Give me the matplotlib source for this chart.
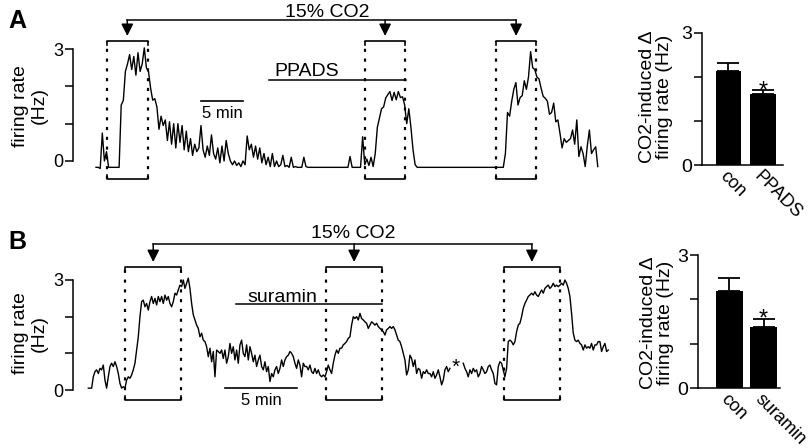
import numpy as np
import matplotlib
matplotlib.use('Agg')
import matplotlib.pyplot as plt

plt.rcParams['font.family'] = ['Liberation Sans', 'DejaVu Sans']

W, H = 810, 448

# ---------------- data ----------------
# firing rate traces (Hz), sampled at a fixed interval (min)
dt_a = 0.25
rate_a = [
    -0.17, -0.17, -0.2, 0.75, 0.0, 0.25, -0.17, -0.17, -0.17, -0.17, -0.17, -0.17,
    1.5, 1.62, 2.4, 2.6, 2.85, 2.45, 2.8, 2.3, 2.9, 2.4, 2.6, 3.03, 2.5, 2.4,
    1.95, 1.63, 1.67, 1.45, 0.85, 1.2, 0.95, 1.1, 0.55, 1.05, 0.45, 1.0, 0.35, 1.0,
    0.5, 0.95, 0.3, 0.8, 0.25, 0.6, 0.15, 0.45, 0.25, 0.35,
    0.95, 0.3, 0.1, 0.4, 0.15, 0.7, 0.2, 0.05, 0.35, -0.05, 0.4, 0.0, 0.55, 0.2,
    0.0, -0.1, 0.0, -0.12, -0.05, -0.15, 0.0, -0.1,
    0.67, 0.3, 0.45, 0.1, 0.4, 0.05, 0.35, -0.05, 0.2, -0.1, 0.1, -0.15, 0.2, -0.15,
    0.0, -0.15, -0.1, 0.15, -0.15, -0.12, -0.17, 0.1, -0.17, -0.15, -0.17, -0.17,
    -0.17, 0.1, -0.15,
    -0.17, -0.17, -0.17, -0.17, -0.17, -0.17, -0.17, -0.17, -0.17, -0.17,
    -0.17, -0.17, -0.17, -0.17, -0.17, -0.17, -0.17, -0.17, -0.17, -0.17,
    0.12, -0.17, -0.17, -0.17, -0.17, -0.17,
    0.65, -0.1, 0.05, -0.12, 0.1, -0.15, 0.2, 0.9, 1.15, 1.4, 1.45, 1.69, 1.78,
    1.86, 1.62, 1.84, 1.64, 1.86, 1.7, 1.72, 1.5, 1.0, 1.4, 0.9, 0.3, -0.1, -0.17,
    -0.17, -0.17, -0.17, -0.17, -0.17, -0.17, -0.17, -0.17, -0.17, -0.17,
    -0.17, -0.17, -0.17, -0.17, -0.17, -0.17, -0.17, -0.17, -0.17, -0.17,
    -0.17, -0.17, -0.17, -0.17, -0.17, -0.17, -0.17, -0.17, -0.17, -0.17,
    -0.17, -0.17, -0.17, -0.17, -0.17, -0.17, -0.17, -0.17, -0.17, -0.17, -0.17,
    0.2, 1.3, 1.2, 1.6, 1.92, 2.1, 1.5, 1.7, 1.75, 2.15, 1.92, 2.25, 2.93, 2.5,
    2.45, 2.25, 2.2, 1.95, 1.73, 1.68, 1.6, 1.25, 1.3, 1.55, 1.05, 1.1, 0.74, 0.35,
    0.6, 0.5, 0.55, 0.6, 0.83, 0.45, 1.1, 0.12, 0.38, 0.2, -0.15, 0.4, 0.83, 0.2,
    0.3, 0.38, -0.15,
]

dt_b = 5 / 43.2
nan = float('nan')
rate_b = [
    0.05, 0.05, 0.05, 0.36, 0.5, 0.55, 0.45, 0.59, 0.55, 0.68, 0.27, 0.05, 0.36,
    0.64, 0.73, 0.64, 0.77, 0.64, 0.45, 0.18, 0.05, 0.09, 0.05, 0.27, 0.36, 0.32,
    0.41, 0.55, 0.73, 1.09, 1.45, 2.0, 2.41, 2.45, 2.27, 2.36, 2.18, 2.41, 2.55,
    2.36, 2.5, 2.32, 2.55, 2.41, 2.55, 2.36, 2.59, 2.45, 2.55, 2.36, 2.27, 2.41,
    2.64, 2.59, 2.73, 2.86, 2.82, 3.0, 2.77, 2.91, 3.05, 2.77, 2.36, 2.05, 1.91,
    1.77, 1.68, 1.45, 1.55, 1.36, 1.32, 1.18, 0.91, 1.14, 0.77, 1.05, 0.36, 1.09,
    1.05, 1.0, 1.09, 0.86, 1.09, 0.73, 0.91, 1.27, 1.0, 1.18, 0.82, 1.09, 0.73,
    1.23, 1.36, 1.0, 0.91, 1.23, 0.82, 1.18, 1.0, 0.77, 0.95, 0.64, 0.82,
    0.95, 0.64, 0.55, 0.77, 0.5, 0.64, 0.23, 0.45, 0.36, 0.55, 0.64, 0.45, 0.59,
    0.82, 0.64, 0.82, 0.91, 0.95, 1.05, 1.0, 0.91, 0.73, 0.59, 0.82, 0.68, 0.36,
    0.73, 0.64, 0.64, 0.55, 0.68, 0.5, 0.45, 0.59, 0.45, 0.55, 0.41, 0.36, 0.41,
    0.36, 0.5, 0.68, 0.55, 0.45, 0.73, 0.95, 1.09, 1.0, 1.14, 1.14, 1.23, 1.27,
    1.32, 1.41, 1.45, 1.77, 2.0, 1.95, 2.0, 1.91, 2.09, 1.95, 1.91, 1.86, 1.82,
    1.68, 1.77, 1.86, 1.82, 1.77, 1.82, 1.73, 1.68, 1.64, 1.59, 1.5, 1.64, 1.68,
    1.73, 1.68, 1.73, 1.64, 1.5, 1.36, 1.32, 1.18, 1.0, 0.82, 0.41, 0.55, 0.95,
    0.86, 0.64, 0.82, 0.45, 0.59, 0.55, 0.32, 0.5, 0.45, 0.55, 0.45,
    0.45, 0.36, 0.5, 0.32, 0.41, 0.55, 0.36, 0.14, 0.27, 0.55, 0.64, 0.5, 0.59,
    nan, nan, nan, nan, nan, nan, nan,
    0.73, 0.59, 0.5, 0.36, 0.55, 0.45, 0.59, 0.5, 0.55, 0.36, 0.45, 0.64, 0.55,
    0.45, 0.5, 0.64, 0.68, 0.55, 0.45, 0.18, 0.14, 0.64, 0.77, 0.73, 0.55, 0.36,
    0.59, 1.32, 1.36, 1.32, 1.23, 1.32, 1.59, 1.77, 1.82, 2.0, 2.23, 2.36, 2.45,
    2.55, 2.59, 2.64, 2.59, 2.68, 2.59, 2.55, 2.64, 2.73, 2.64, 2.77, 2.82, 2.86,
    2.77, 2.82, 2.91, 2.82, 2.86, 2.82, 2.86, 2.91, 2.86, 3.0, 2.91, 2.77, 2.55,
    2.09, 1.55, 1.36, 1.32, 1.36, 1.27, 1.23, 1.09, 1.23, 1.14, 1.18, 1.14, 1.27,
    1.09, 1.23, 1.23, 1.32, 1.32, 1.05, 1.18, 1.27, 1.05, 1.09,
]

# CO2 applications and drug periods (min)
co2_on_a = [1.3, 32.0, 47.6]
co2_dur_a = 4.85
ppads_period = [20.6, 36.9]
co2_on_b = [2.55, 16.5, 28.85]
co2_dur_b = 3.92
suramin_period = [10.26, 20.4]

# summary bars (Hz)
bar_labels_a = ['con', 'PPADS']
bar_mean_a = [2.14, 1.61]
bar_sem_a = [0.17, 0.09]
bar_labels_b = ['con', 'suramin']
bar_mean_b = [2.19, 1.38]
bar_sem_b = [0.30, 0.18]


def px_axes(fig, left, top, right, bottom):
    return fig.add_axes([left / W, 1 - bottom / H, (right - left) / W, (bottom - top) / H])


def style_yaxis(ax, size):
    for s in ['top', 'right', 'bottom']:
        ax.spines[s].set_visible(False)
    ax.spines['left'].set_bounds(0, 3)
    ax.spines['left'].set_linewidth(1.1)
    ax.set_yticks([0, 1, 2, 3])
    ax.set_yticklabels(['0', '', '', '3'])
    ax.tick_params(axis='y', direction='out', length=6, width=1.1, labelsize=size, pad=1)


def trace_panel(ax, t, rate, co2_on, dur, drug, drug_name, lay):
    style_yaxis(ax, 13)
    ax.set_xticks([])
    ax.plot(t, rate, color='black', lw=1.0)

    top, bot, d = lay['box_top'], lay['box_bot'], 0.1
    centers = []
    for on in co2_on:
        off = on + dur
        centers.append(on + dur / 2)
        ax.plot([on, on, off, off], [top - d, top, top, top - d], color='black', lw=1.2, clip_on=False)
        ax.plot([on, on, off, off], [bot + d, bot, bot, bot + d], color='black', lw=1.2, clip_on=False)
        for x in (on, off):
            ax.plot([x, x], [bot, top], color='black', lw=1.6, ls=(0, (1.4, 3.0)), clip_on=False)

    ay = lay['arrow_y']
    ax.plot([centers[0], centers[-1]], [ay, ay], color='black', lw=1.1, clip_on=False)
    for c in centers:
        ax.annotate('', xy=(c, lay['tip_y']), xytext=(c, ay), annotation_clip=False,
                    arrowprops=dict(arrowstyle='-|>,head_length=0.6,head_width=0.3',
                                    mutation_scale=12, color='black', lw=1.1,
                                    shrinkA=0, shrinkB=0))
    ax.text(lay['co2_x'], lay['co2_y'], '15% CO2', ha='center', va='baseline', fontsize=14)

    ax.plot(drug, [lay['drug_y'], lay['drug_y']], color='black', lw=1.1, clip_on=False)
    ax.text(lay['drug_tx'], lay['drug_ty'], drug_name, ha='center', va='baseline', fontsize=14)

    sx, sy = lay['scale_x'], lay['scale_y']
    ax.plot([sx, sx + 5], [sy, sy], color='black', lw=1.2, clip_on=False)
    ax.text(sx + 2.5, lay['scale_ty'], '5 min', ha='center', va='baseline', fontsize=12)


def bar_panel(ax, labels, means, sems, width):
    style_yaxis(ax, 14)
    ax.spines['bottom'].set_visible(True)
    ax.spines['bottom'].set_linewidth(1.1)
    x = np.arange(len(means))
    ax.bar(x, means, width=width, color='black', zorder=2)
    ax.errorbar(x, means, yerr=[np.zeros(len(sems)), sems], fmt='none', ecolor='black',
                elinewidth=1.3, capsize=8, capthick=1.3, zorder=1)
    ax.annotate('*', (x[1], means[1] + sems[1]), xytext=(0, -5), textcoords='offset points',
                ha='center', va='baseline', fontsize=17)
    ax.set_xticks(x)
    ax.set_xticklabels(labels, rotation=-45, ha='left', va='top', rotation_mode='anchor', fontsize=13)
    ax.tick_params(axis='x', length=0, pad=2)


fig = plt.figure(figsize=(W / 100, H / 100), dpi=100)

# ---- A trace ----
ax_a = px_axes(fig, 73, 0, 615, 200)
t_a = np.arange(len(rate_a)) * dt_a
ax_a.set_xlim(-2.74, 61.8)
ax_a.set_ylim(-1.045, 4.313)
trace_panel(ax_a, t_a, rate_a, co2_on_a, co2_dur_a, ppads_period, 'PPADS',
            dict(box_top=3.21, box_bot=-0.48, arrow_y=3.78, tip_y=3.35,
                 co2_x=27.5, co2_y=3.85, drug_y=2.17, drug_tx=25.1, drug_ty=2.29,
                 scale_x=12.5, scale_y=1.61, scale_ty=1.15))

# ---- B trace ----
ax_b = px_axes(fig, 73, 220, 615, 420)
t_b = np.arange(len(rate_b)) * dt_b
ax_b.set_xlim(-1.0625, 36.58)
ax_b.set_ylim(-0.818, 4.636)
trace_panel(ax_b, t_b, rate_b, co2_on_b, co2_dur_b, suramin_period, 'suramin',
            dict(box_top=3.35, box_bot=-0.27, arrow_y=3.98, tip_y=3.49,
                 co2_x=18.4, co2_y=4.14, drug_y=2.345, drug_tx=13.5, drug_ty=2.4,
                 scale_x=9.49, scale_y=0.055, scale_ty=-0.41))
ax_b.text(25.5, 0.62, '*', ha='center', va='center', fontsize=15)

# ---- bar charts ----
axb_a = px_axes(fig, 702, 33, 783, 165)
axb_a.set_ylim(0, 3)
axb_a.set_xlim(-0.768, 1.58)
bar_panel(axb_a, bar_labels_a, bar_mean_a, bar_sem_a, 0.75)

axb_b = px_axes(fig, 698, 255, 780, 388)
axb_b.set_ylim(0, 3)
axb_b.set_xlim(-0.926, 1.485)
bar_panel(axb_b, bar_labels_b, bar_mean_b, bar_sem_b, 0.82)

# ---- labels ----
fig.text(17 / W, 1 - 21 / H, 'A', fontsize=18, fontweight='bold', ha='center', va='center')
fig.text(17 / W, 1 - 242 / H, 'B', fontsize=18, fontweight='bold', ha='center', va='center')
fig.text(30 / W, 1 - 106 / H, 'firing rate\n(Hz)', rotation=90, ha='center', va='center',
         fontsize=14, linespacing=1.1, multialignment='center')
fig.text(30 / W, 1 - 333 / H, 'firing rate\n(Hz)', rotation=90, ha='center', va='center',
         fontsize=14, linespacing=1.1, multialignment='center')
fig.text(656 / W, 1 - 97 / H, 'CO2-induced Δ\nfiring rate (Hz)', rotation=90, ha='center',
         va='center', fontsize=14, linespacing=1.05, multialignment='center')
fig.text(657 / W, 1 - 323 / H, 'CO2-induced Δ\nfiring rate (Hz)', rotation=90, ha='center',
         va='center', fontsize=14, linespacing=1.05, multialignment='center')

fig.savefig('out.png', dpi=100)
